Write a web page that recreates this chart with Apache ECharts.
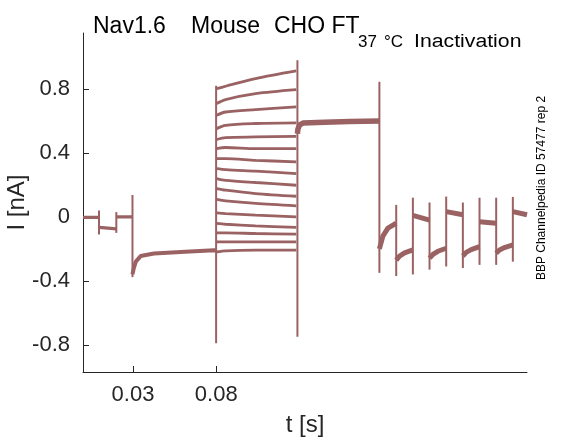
<!DOCTYPE html>
<html>
<head>
<meta charset="utf-8">
<script src="https://cdn.jsdelivr.net/npm/echarts@6/dist/echarts.min.js"></script>
<style>
  html, body { margin: 0; padding: 0; background: #fff; }
  #chart { width: 583px; height: 438px; }
</style>
</head>
<body>
<div id="chart"></div>
<script>
// tick positions shown by the original figure
var xTicks = [0.03, 0.08];
var yTicks = [-0.8, -0.4, 0, 0.4, 0.8];

// capacitive transients at each voltage step: [t (s), top (nA), bottom (nA)]
var spikes = [
  [0.0096, 0.04, -0.11], [0.0200, 0.03, -0.10], [0.0297, 0.137, -0.377], [0.0799, 0.82, -0.79],
  [0.1287, 0.98, -0.75], [0.1779, 0.845, -0.35], [0.1880, 0.075, -0.37], [0.1980, 0.12, -0.36],
  [0.2080, 0.09, -0.33], [0.2180, 0.127, -0.31], [0.2280, 0.09, -0.32], [0.2380, 0.12, -0.30],
  [0.2480, 0.12, -0.30], [0.2580, 0.125, -0.28]
];

// common current levels before the test pulse (all sweeps overlap)  [t, I]
var preSteps = [
  [[0, -0.003], [0.0096, -0.003]],
  [[0.0096, -0.065], [0.015, -0.07], [0.0200, -0.075]],
  [[0.0200, 0.0], [0.0297, 0.0]]
];
var holdTrace = [
  [0.0297, -0.36], [0.0305, -0.32], [0.0317, -0.28], [0.0346, -0.245], [0.0426, -0.229],
  [0.0586, -0.219], [0.0786, -0.208], [0.0799, -0.21]
];

// test pulse: sample times and the 16 sweep levels at those times
var testTimes = [0.0802, 0.0856, 0.1036, 0.1280];
var testLevels = [
  [0.802, 0.817, 0.865, 0.913],
  [0.709, 0.734, 0.771, 0.796],
  [0.636, 0.656, 0.671, 0.688],
  [0.552, 0.573, 0.584, 0.588],
  [0.484, 0.496, 0.500, 0.504],
  [0.427, 0.434, 0.427, 0.427],
  [0.365, 0.365, 0.354, 0.344],
  [0.302, 0.296, 0.286, 0.271],
  [0.240, 0.229, 0.215, 0.198],
  [0.177, 0.167, 0.146, 0.129],
  [0.109, 0.100, 0.084, 0.069],
  [0.025, 0.021, 0.011, 0.000],
  [-0.041, -0.046, -0.056, -0.066],
  [-0.100, -0.100, -0.104, -0.108],
  [-0.156, -0.156, -0.156, -0.156],
  [-0.219, -0.212, -0.208, -0.208]
];

// common level right after the test pulse
var postTrace = [
  [0.1287, 0.52], [0.1290, 0.55], [0.1300, 0.575], [0.1320, 0.587], [0.1450, 0.592],
  [0.1600, 0.597], [0.1779, 0.600]
];

// alternating steps at the end of the sweep
var stairSteps = [
  [[0.1779, -0.20], [0.1800, -0.12], [0.1830, -0.07], [0.1880, -0.04]],
  [[0.1880, -0.27], [0.1900, -0.245], [0.1930, -0.225], [0.1980, -0.206]],
  [[0.1980, 0.01], [0.2080, -0.02]],
  [[0.2080, -0.258], [0.2100, -0.235], [0.2130, -0.215], [0.2180, -0.196]],
  [[0.2180, 0.033], [0.2280, 0.013]],
  [[0.2280, -0.244], [0.2300, -0.222], [0.2330, -0.205], [0.2380, -0.186]],
  [[0.2380, -0.03], [0.2480, -0.04]],
  [[0.2480, -0.227], [0.2500, -0.207], [0.2530, -0.192], [0.2580, -0.175]],
  [[0.2580, 0.033], [0.2665, 0.013]]
];

var traceColor = '#9a6262';
var axisColor = '#262626';
var fontFam = '"Liberation Sans", Arial, Helvetica, sans-serif';

var chart = echarts.init(document.getElementById('chart'));

function lineSeries(data, width, smooth) {
  return {
    type: 'line', data: data, showSymbol: false, animation: false, smooth: smooth || false,
    lineStyle: { color: traceColor, width: width }
  };
}

var series = [];
preSteps.forEach(function (s) { series.push(lineSeries(s, 3.2)); });
series.push(lineSeries(holdTrace, 4));
for (var i = 0; i < testLevels.length; i++) {
  var d = [];
  for (var k = 0; k < testTimes.length; k++) {
    d.push([testTimes[k], testLevels[i][k]]);
  }
  series.push(lineSeries(d, 2.8, 0.3));
}
series.push(lineSeries(postTrace, 5.5));
stairSteps.forEach(function (s) { series.push(lineSeries(s, 5)); });
spikes.forEach(function (p) { series.push(lineSeries([[p[0], p[1]], [p[0], p[2]]], 2)); });

var option = {
  backgroundColor: '#fff',
  animation: false,
  grid: { left: 83, right: 56, top: 33, bottom: 66, outerBoundsMode: 'none', containLabel: false },
  xAxis: {
    type: 'value', min: 0, max: 0.2665,
    name: 't [s]', nameLocation: 'middle', nameGap: 41, nameMoveOverlap: false,
    nameTextStyle: { fontSize: 24, color: axisColor, fontFamily: fontFam },
    axisLine: { onZero: false, lineStyle: { color: axisColor, width: 1 } },
    axisTick: { inside: true, length: 6, customValues: xTicks, lineStyle: { color: axisColor } },
    axisLabel: { customValues: xTicks, fontSize: 22, color: axisColor, fontFamily: fontFam, margin: 12,
      formatter: function (v) { return v.toFixed(2); } },
    splitLine: { show: false }
  },
  yAxis: {
    type: 'value', min: -0.97, max: 1.15,
    name: 'I [nA]', nameLocation: 'middle', nameGap: 54, nameMoveOverlap: false,
    nameTextStyle: { fontSize: 24, color: axisColor, fontFamily: fontFam },
    axisLine: { show: true, onZero: false, lineStyle: { color: axisColor, width: 1 } },
    axisTick: { show: true, inside: true, length: 6, customValues: yTicks, lineStyle: { color: axisColor } },
    axisLabel: { customValues: yTicks, fontSize: 22, color: axisColor, fontFamily: fontFam, margin: 13,
      formatter: function (v) { return String(Math.round(v * 10) / 10); } },
    splitLine: { show: false }
  },
  graphic: [
    { type: 'text', x: 93, y: 27, style: { text: 'Nav1.6', font: '23px ' + fontFam, fill: '#000', verticalAlign: 'middle' } },
    { type: 'text', x: 191, y: 27, style: { text: 'Mouse', font: '23px ' + fontFam, fill: '#000', verticalAlign: 'middle' } },
    { type: 'text', x: 274, y: 27, style: { text: 'CHO FT', font: '23px ' + fontFam, fill: '#000', verticalAlign: 'middle' } },
    { type: 'text', x: 358, y: 42, style: { text: '37', font: '17px ' + fontFam, fill: '#000', verticalAlign: 'middle' } },
    { type: 'text', x: 384, y: 42, style: { text: '°C', font: '17px ' + fontFam, fill: '#000', verticalAlign: 'middle' } },
    { type: 'text', x: 414, y: 42, scaleX: 1.18, style: { text: 'Inactivation', font: '18px ' + fontFam, fill: '#000', verticalAlign: 'middle' } },
    { type: 'text', x: 542, y: 188, rotation: Math.PI / 2,
      style: { text: 'BBP Channelpedia ID 57477 rep 2', font: '12px ' + fontFam, fill: '#000', align: 'center', verticalAlign: 'middle' } }
  ],
  series: series
};

chart.setOption(option);
</script>
</body>
</html>
